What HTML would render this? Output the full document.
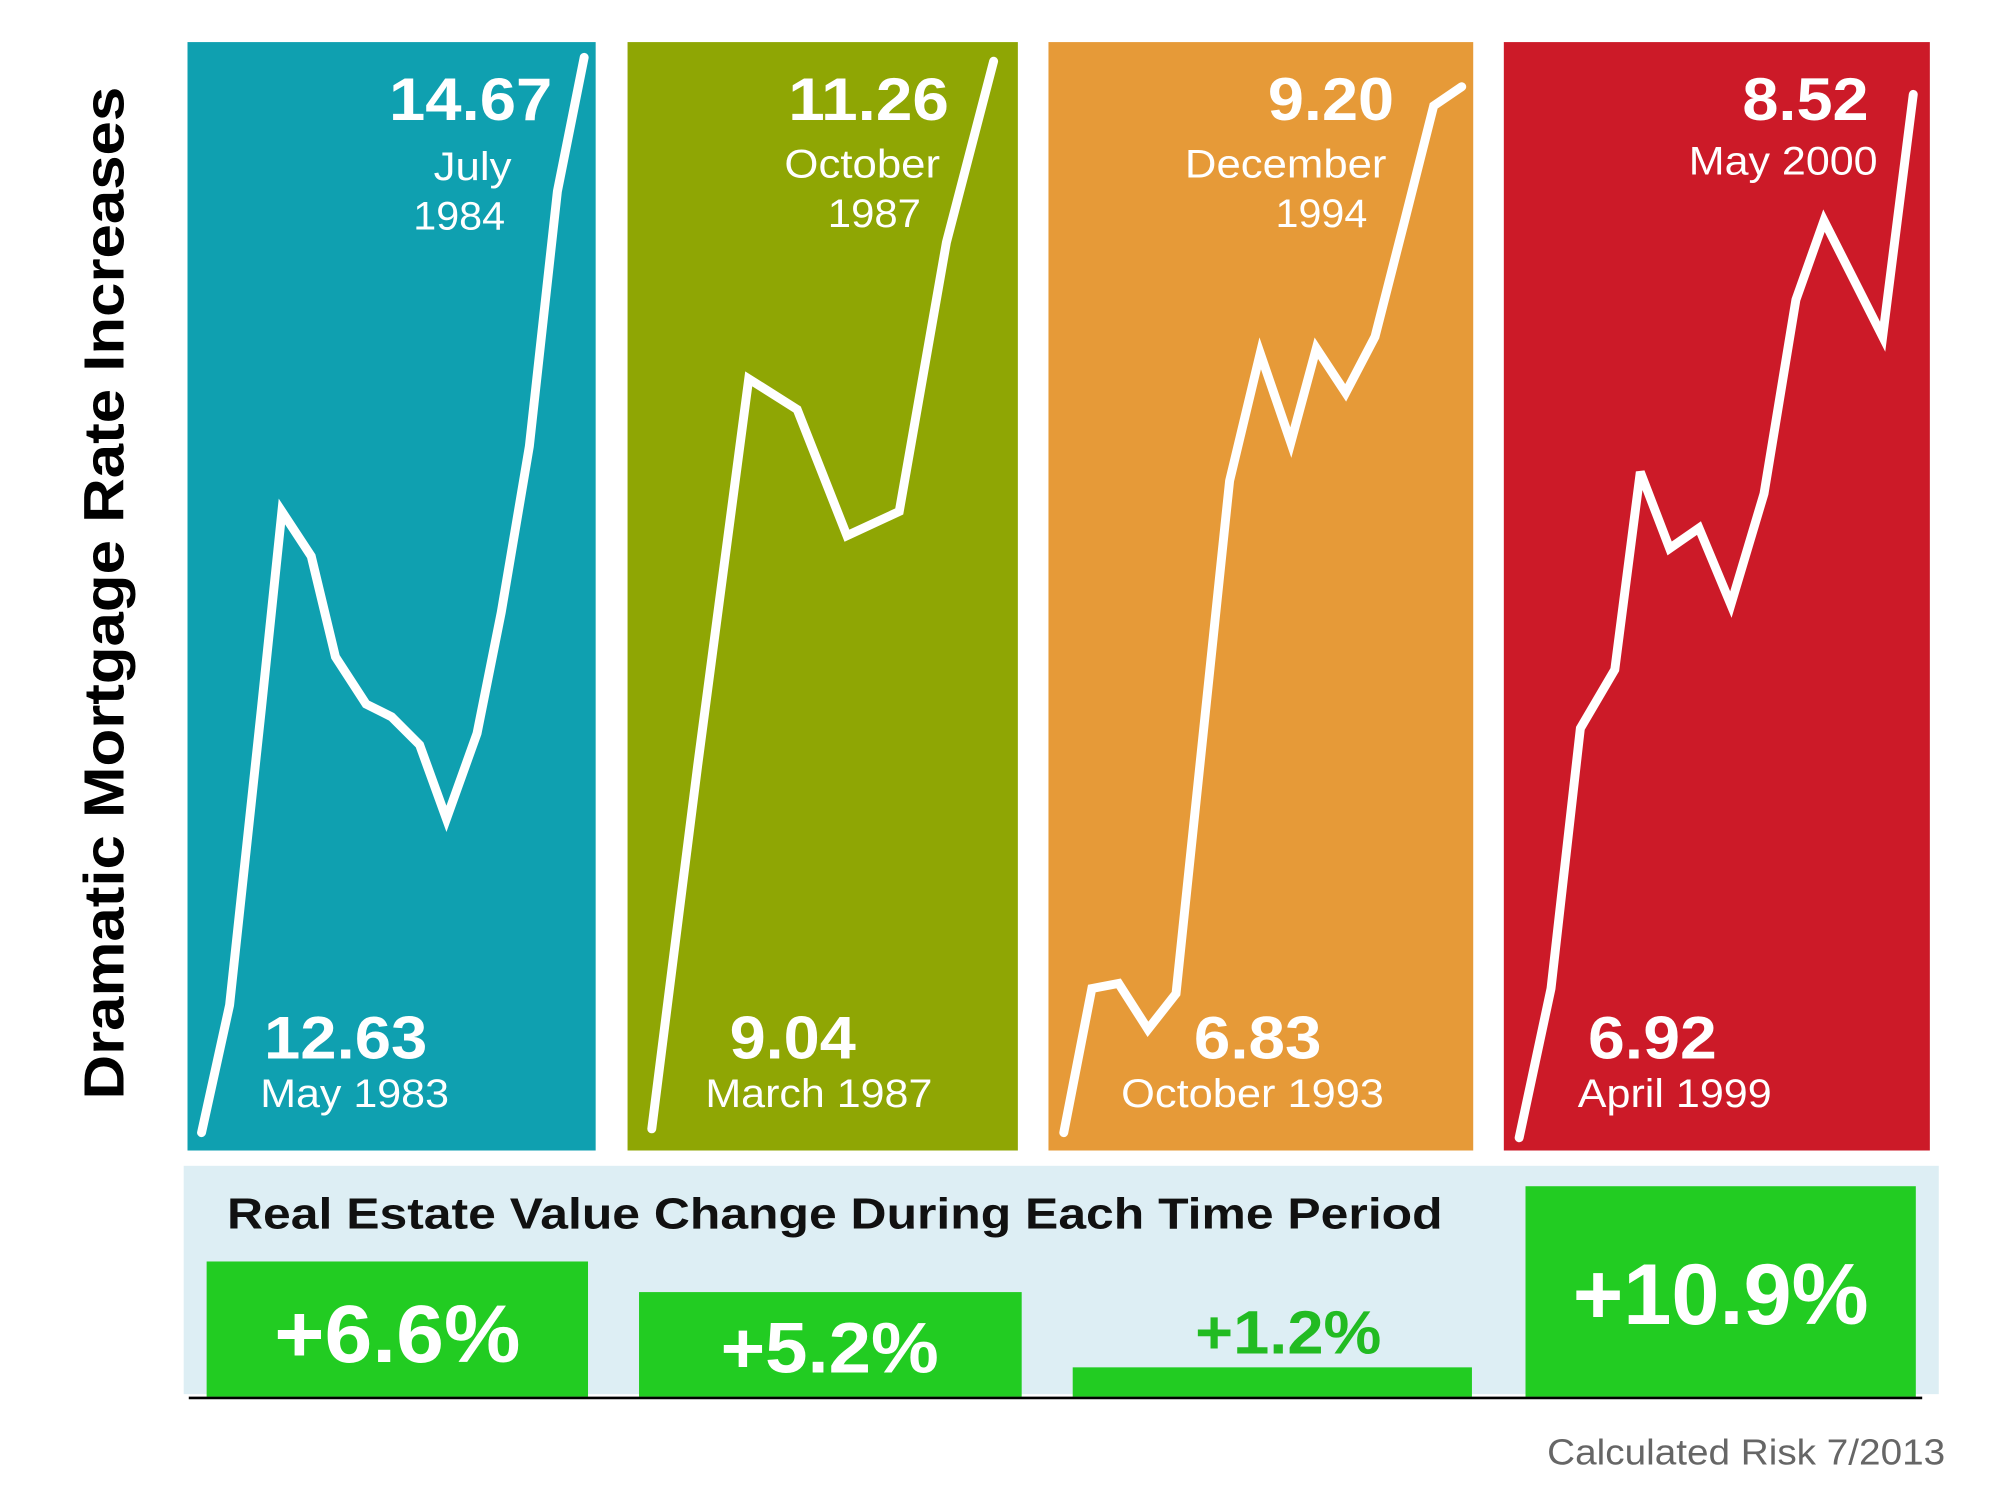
<!DOCTYPE html>
<html><head><meta charset="utf-8"><style>html,body{margin:0;padding:0;background:#fff}svg{display:block}</style></head>
<body>
<svg width="2000" height="1500" viewBox="0 0 1568 1176" preserveAspectRatio="none" xmlns="http://www.w3.org/2000/svg" font-family="Liberation Sans, Arial, sans-serif">
<rect width="1568" height="1176" fill="#fff"/>
<rect x="147" y="33" width="320" height="869" fill="#0fa0b0"/>
<rect x="492" y="33" width="306" height="869" fill="#8fa604"/>
<rect x="822" y="33" width="333" height="869" fill="#e69a38"/>
<rect x="1179" y="33" width="334" height="869" fill="#cc1a28"/>
<g fill="none" stroke="#fff" stroke-width="7" stroke-linejoin="miter" stroke-linecap="round">
<polyline points="158,888 180,788 205,555 221,401 244,436 263,515 287,552 307,562 329,584 350,642 374,575 393,480 415,350 437,150 458,45"/>
<polyline points="511,885 547,600 587,297 625,321 664,420 705,401 742,190 779,48"/>
<polyline points="834,888 856,775 877,771 900,807 922,779 964,377 988,277 1012,347 1032,273 1055,308 1078,264 1102,170 1124,83 1146,68"/>
<polyline points="1191,892 1216,775 1239,571 1266,525 1286,370 1309,430 1332,414 1357,474 1383,387 1408,235 1430,173 1476,264 1500,74"/>
</g>
<g fill="#fff" lengthAdjust="spacingAndGlyphs">
<g font-weight="bold" font-size="47">
<text x="305" y="94" textLength="128" lengthAdjust="spacingAndGlyphs">14.67</text>
<text x="618" y="94" textLength="126" lengthAdjust="spacingAndGlyphs">11.26</text>
<text x="994" y="94" textLength="99" lengthAdjust="spacingAndGlyphs">9.20</text>
<text x="1366" y="94" textLength="99" lengthAdjust="spacingAndGlyphs">8.52</text>
<text x="207" y="830" textLength="128" lengthAdjust="spacingAndGlyphs">12.63</text>
<text x="572" y="830" textLength="99" lengthAdjust="spacingAndGlyphs">9.04</text>
<text x="936" y="830" textLength="100" lengthAdjust="spacingAndGlyphs">6.83</text>
<text x="1245" y="830" textLength="101" lengthAdjust="spacingAndGlyphs">6.92</text>
</g>
<g font-size="31">
<text x="340" y="141" textLength="61" lengthAdjust="spacingAndGlyphs">July</text>
<text x="324" y="180" textLength="72" lengthAdjust="spacingAndGlyphs">1984</text>
<text x="615" y="139" textLength="122" lengthAdjust="spacingAndGlyphs">October</text>
<text x="649" y="178" textLength="73" lengthAdjust="spacingAndGlyphs">1987</text>
<text x="929" y="139" textLength="158" lengthAdjust="spacingAndGlyphs">December</text>
<text x="1000" y="178" textLength="72" lengthAdjust="spacingAndGlyphs">1994</text>
<text x="1324" y="137" textLength="148" lengthAdjust="spacingAndGlyphs">May 2000</text>
<text x="204" y="868" textLength="148" lengthAdjust="spacingAndGlyphs">May 1983</text>
<text x="553" y="868" textLength="178" lengthAdjust="spacingAndGlyphs">March 1987</text>
<text x="879" y="868" textLength="206" lengthAdjust="spacingAndGlyphs">October 1993</text>
<text x="1237" y="868" textLength="152" lengthAdjust="spacingAndGlyphs">April 1999</text>
</g>
</g>
<text transform="translate(97,465) rotate(-90)" text-anchor="middle" font-weight="bold" font-size="44" fill="#000" textLength="794" lengthAdjust="spacingAndGlyphs">Dramatic Mortgage Rate Increases</text>
<rect x="144" y="914" width="1376" height="179" fill="#ddeef4"/>
<g fill="#22cc22">
<rect x="162" y="989" width="299" height="106"/>
<rect x="501" y="1013" width="300" height="82"/>
<rect x="841" y="1072" width="313" height="23"/>
<rect x="1196" y="930" width="306" height="165"/>
</g>
<line x1="148" y1="1096" x2="1507" y2="1096" stroke="#000" stroke-width="2"/>
<text x="178" y="963" font-weight="bold" font-size="34" fill="#111" textLength="953" lengthAdjust="spacingAndGlyphs">Real Estate Value Change During Each Time Period</text>
<g font-weight="bold">
<text x="215" y="1068" font-size="64" fill="#fff" textLength="193" lengthAdjust="spacingAndGlyphs">+6.6%</text>
<text x="565" y="1076" font-size="56" fill="#fff" textLength="171" lengthAdjust="spacingAndGlyphs">+5.2%</text>
<text x="937" y="1061" font-size="48" fill="#22bb22" textLength="146" lengthAdjust="spacingAndGlyphs">+1.2%</text>
<text x="1233" y="1038" font-size="68" fill="#fff" textLength="232" lengthAdjust="spacingAndGlyphs">+10.9%</text>
</g>
<text x="1525" y="1148" text-anchor="end" font-size="28" fill="#666" textLength="312" lengthAdjust="spacingAndGlyphs">Calculated Risk 7/2013</text>
</svg>
</body></html>
